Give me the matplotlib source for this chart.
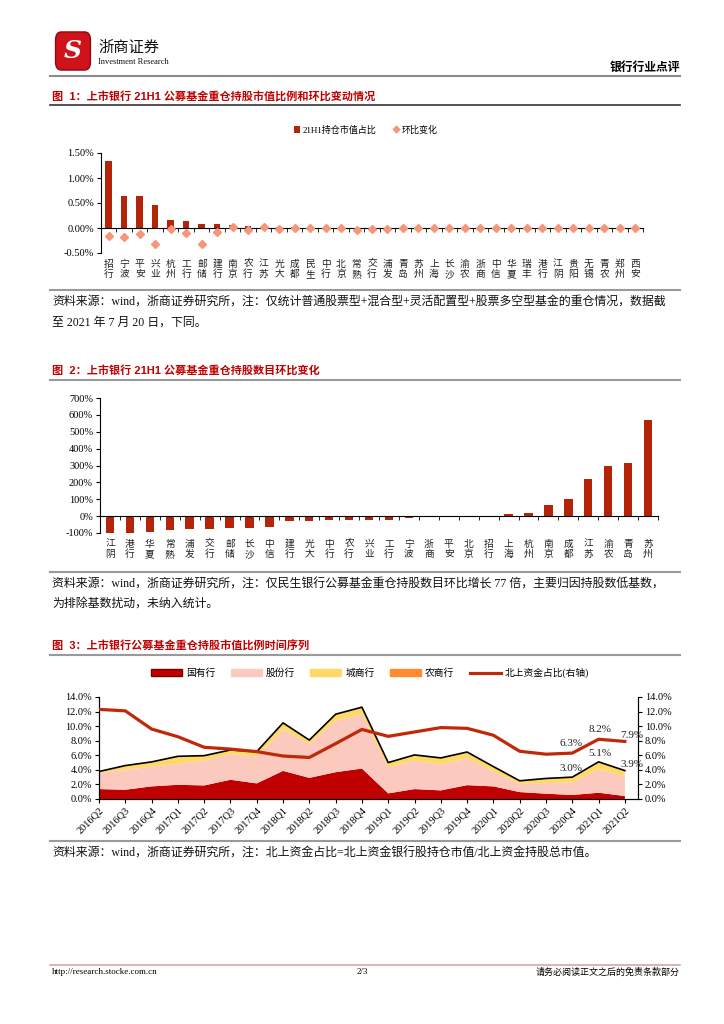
import matplotlib as mpl
mpl.use("Agg")

import matplotlib.pyplot as plt
import numpy as np
from matplotlib.lines import Line2D
from matplotlib.patches import FancyBboxPatch, Patch

W, H = 724, 1024
CJK = 'Noto Sans CJK SC'
SERIF = ['Liberation Serif', CJK]
SANS = ['Liberation Sans', CJK]

RED = '#B32408'
TITLE_RED = '#C00000'

# chart 1: share of fund holdings by bank (21H1) and q/q change, in %
banks1 = ['招行', '宁波', '平安', '兴业', '杭州', '工行', '邮储', '建行', '南京', '农行',
          '江苏', '光大', '成都', '民生', '中行', '北京', '常熟', '交行', '浦发', '青岛',
          '苏州', '上海', '长沙', '渝农', '浙商', '中信', '华夏', '瑞丰', '港行', '江阴',
          '贵阳', '无锡', '青农', '郑州', '西安']
share1 = [1.35, 0.65, 0.64, 0.46, 0.16, 0.15, 0.09, 0.08, 0.06, 0.05,
          0.03, 0.03, 0.02, 0.02, 0.01, 0.01, 0.01, 0.01, 0.01, 0.01,
          0.01, 0.005, 0.005, 0.005, 0.005, 0.004, 0.004, 0.003, 0.003, 0.003,
          0.002, 0.002, 0.002, 0.001, 0.001]
change1 = [-0.15, -0.17, -0.11, -0.31, -0.01, -0.09, -0.32, -0.07, 0.02, -0.03,
           0.02, -0.02, 0.01, 0.01, 0.0, 0.0, -0.03, -0.015, -0.015, 0.01,
           0.01, 0.0, -0.005, 0.0, 0.0, 0.0, 0.0, 0.0, 0.0, 0.0,
           0.0, 0.0, 0.0, 0.0, 0.0]

# chart 2: q/q change in number of heavy holdings, in %
banks2 = ['江阴', '港行', '华夏', '常熟', '浦发', '交行', '邮储', '长沙', '中信', '建行',
          '光大', '中行', '农行', '兴业', '工行', '宁波', '浙商', '平安', '北京', '招行',
          '上海', '杭州', '南京', '成都', '江苏', '渝农', '青岛', '苏州']
count2 = [-100, -100, -95, -85, -76, -74, -72, -70, -65, -30,
          -28, -24, -24, -24, -22, -10, -6, -5, -4, -3,
          10, 20, 64, 103, 219, 298, 312, 571]

# chart 3: time series, in %
quarters = ['2016Q2', '2016Q3', '2016Q4', '2017Q1', '2017Q2', '2017Q3', '2017Q4',
            '2018Q1', '2018Q2', '2018Q3', '2018Q4', '2019Q1', '2019Q2', '2019Q3',
            '2019Q4', '2020Q1', '2020Q2', '2020Q3', '2020Q4', '2021Q1', '2021Q2']
soe = [1.36, 1.27, 1.73, 1.95, 1.86, 2.64, 2.14, 3.86, 2.90, 3.68, 4.18,
       0.77, 1.36, 1.18, 1.90, 1.73, 0.95, 0.73, 0.55, 0.86, 0.41]
joint = [2.19, 2.73, 2.72, 2.87, 3.41, 3.54, 3.68, 5.69, 4.65, 7.05, 7.46,
         3.59, 3.91, 3.55, 3.69, 2.04, 1.10, 1.45, 1.72, 3.23, 2.68]
city = [0.18, 0.54, 0.59, 0.98, 0.62, 0.50, 0.63, 0.82, 0.48, 0.84, 0.88,
        0.59, 0.72, 0.86, 0.80, 0.63, 0.41, 0.59, 0.67, 0.95, 0.76]
rural = [0.04, 0.05, 0.05, 0.06, 0.06, 0.05, 0.05, 0.08, 0.06, 0.07, 0.08,
         0.05, 0.06, 0.05, 0.06, 0.05, 0.04, 0.05, 0.06, 0.06, 0.05]
north = [12.3, 12.1, 9.6, 8.55, 7.1, 6.85, 6.5, 5.9, 5.7, 7.6, 9.55,
         8.6, 9.2, 9.8, 9.7, 8.75, 6.55, 6.15, 6.3, 8.2, 7.9]


def rect(l, t, r, b):
    return [l / W, 1 - b / H, (r - l) / W, (b - t) / H]


def fx(x):
    return x / W


def fy(y):
    return 1 - y / H


def hline(fig, y, x0=50, x1=680, color='#9a9a9a', lw=1.5):
    fig.add_artist(Line2D([fx(x0), fx(x1)], [fy(y), fy(y)], color=color, lw=lw))


def cat_labels(ax, names, ybase, size=7):
    for i, n in enumerate(names):
        ax.annotate('\n'.join(n), xy=(i, ybase), xycoords='data',
                    xytext=(0, -4), textcoords='offset points',
                    ha='center', va='top', fontsize=size, family=CJK,
                    linespacing=1.05, color='#222222', annotation_clip=False)


fig = plt.figure(figsize=(W / 100, H / 100), dpi=100)

# ---- header ----
fig.add_artist(FancyBboxPatch((fx(57), fy(68)), fx(32), 34 / H,
                              boxstyle='round,pad=0.002,rounding_size=0.008',
                              fc='#D0121B', ec='#8a0a10', lw=1))
fig.text(fx(73), fy(51), 'S', fontsize=18, color='white', ha='center', va='center',
         family='DejaVu Serif', weight='bold', style='italic')
fig.text(fx(98), fy(47), '浙商证券', fontsize=11, family=CJK, va='center', color='#111111')
fig.text(fx(98), fy(62), 'Investment Research', fontsize=6, family='Liberation Serif',
         va='center', color='#111111', stretch='condensed')
fig.text(fx(680), fy(67), '银行行业点评', fontsize=8.5, family=CJK, weight='bold',
         ha='right', va='center')
hline(fig, 76, color='#8c8c8c', lw=1.5)

# ---- chart 1 ----
fig.text(fx(52), fy(96), '图  1：上市银行 21H1 公募基金重仓持股市值比例和环比变动情况',
         fontsize=8, family=SANS, weight='bold', color=TITLE_RED, va='center')
hline(fig, 105, color='#333333', lw=1.2)

ax1 = fig.add_axes(rect(101, 153, 643, 253))
x1 = np.arange(len(banks1))
bars1 = ax1.bar(x1, share1, width=0.42, color=RED, zorder=2, label='21H1持仓市值占比')
pts1, = ax1.plot(x1, change1, 'D', ms=4.2, color='#F7957A', zorder=3, label='环比变化')
ax1.set_xlim(-0.5, len(banks1) - 0.5)
ax1.set_ylim(-0.5, 1.5)
ax1.set_yticks([-0.5, 0, 0.5, 1.0, 1.5])
ax1.set_yticklabels(['-0.50%', '0.00%', '0.50%', '1.00%', '1.50%'],
                    family='Liberation Serif', fontsize=7.5)
for s in ['top', 'right']:
    ax1.spines[s].set_visible(False)
ax1.spines['bottom'].set_position(('data', 0))
ax1.set_xticks(x1)
ax1.set_xticklabels([])
ax1.tick_params(axis='x', which='major', length=0)
ax1.set_xticks(x1 + 0.5, minor=True)
ax1.tick_params(axis='x', which='minor', length=3, direction='out')
ax1.tick_params(axis='y', length=3, direction='out', pad=2)
cat_labels(ax1, banks1, -0.5)
fig.legend(handles=[bars1, pts1], loc='center', bbox_to_anchor=(fx(366), fy(130)),
           ncol=2, frameon=False, prop={'family': SERIF, 'size': 6.5},
           handlelength=0.7, handleheight=0.7, handletextpad=0.3,
           columnspacing=1.8, markerscale=0.8)

hline(fig, 290)
fig.text(fx(52), fy(302), '资料来源：wind，浙商证券研究所，注：仅统计普通股票型+混合型+灵活配置型+股票多空型基金的重仓情况，数据截',
         fontsize=8.6, family=SERIF, va='center', color='#111111')
fig.text(fx(52), fy(323), '至 2021 年 7 月 20 日，下同。', fontsize=8.6, family=SERIF,
         va='center', color='#111111')

# ---- chart 2 ----
fig.text(fx(52), fy(370), '图  2：上市银行 21H1 公募基金重仓持股数目环比变化',
         fontsize=8, family=SANS, weight='bold', color=TITLE_RED, va='center')
hline(fig, 380)

ax2 = fig.add_axes(rect(100, 398, 658, 533))
x2 = np.arange(len(banks2))
ax2.bar(x2, count2, width=0.42, color=RED, zorder=2)
ax2.set_xlim(-0.5, len(banks2) - 0.5)
ax2.set_ylim(-100, 700)
ax2.set_yticks(np.arange(-100, 701, 100))
ax2.set_yticklabels(['%d%%' % v for v in range(-100, 701, 100)],
                    family='Liberation Serif', fontsize=7.5)
for s in ['top', 'right']:
    ax2.spines[s].set_visible(False)
ax2.spines['bottom'].set_position(('data', 0))
ax2.set_xticks(x2)
ax2.set_xticklabels([])
ax2.tick_params(axis='x', which='major', length=0)
ax2.set_xticks(x2 + 0.5, minor=True)
ax2.tick_params(axis='x', which='minor', length=3, direction='out')
ax2.tick_params(axis='y', length=3, direction='out', pad=2)
cat_labels(ax2, banks2, -100)

hline(fig, 572)
fig.text(fx(52), fy(585), '资料来源：wind，浙商证券研究所，注：仅民生银行公募基金重仓持股数目环比增长 77 倍，主要归因持股数低基数，',
         fontsize=8.6, family=SERIF, va='center', color='#111111')
fig.text(fx(52), fy(604), '为排除基数扰动，未纳入统计。', fontsize=8.6, family=SERIF,
         va='center', color='#111111')

# ---- chart 3 ----
fig.text(fx(52), fy(645), '图  3：上市银行公募基金重仓持股市值比例时间序列',
         fontsize=8, family=SANS, weight='bold', color=TITLE_RED, va='center')
hline(fig, 655)

ax3 = fig.add_axes(rect(99, 697, 638, 799))
x3 = np.arange(len(quarters))
total = np.array(soe) + np.array(joint) + np.array(city) + np.array(rural)
ax3.stackplot(x3, soe, joint, city, rural,
              colors=['#C00000', '#FBC9BD', '#FFD966', '#FF8B2E'], zorder=1)
ax3.plot(x3, total, color='black', lw=1.2, zorder=2)
ax3.set_xlim(0, 20.5)
ax3.set_ylim(0, 14)
ax3.set_yticks(np.arange(0, 15, 2))
ax3.set_yticklabels(['%.1f%%' % v for v in range(0, 15, 2)],
                    family='Liberation Serif', fontsize=7.5)
ax3.spines['top'].set_visible(False)
ax3.set_xticks(x3)
ax3.set_xticklabels(quarters, rotation=45, ha='right', va='top', rotation_mode='anchor',
                    family='Liberation Serif', fontsize=7.5)
ax3.tick_params(axis='x', length=3, direction='out', pad=2)
ax3.tick_params(axis='y', length=3, direction='out', pad=2)

ax3r = ax3.twinx()
ax3r.plot(x3, north, color='#C0280A', lw=2.3, zorder=3)
ax3r.set_ylim(0, 14)
ax3r.set_yticks(np.arange(0, 15, 2))
ax3r.set_yticklabels(['%.1f%%' % v for v in range(0, 15, 2)],
                     family='Liberation Serif', fontsize=7.5)
ax3r.spines['top'].set_visible(False)
ax3r.tick_params(axis='y', length=3, direction='out', pad=2)

# value labels on the last quarters: (index, dx, dy for north, dy for total)
for i, dx, dyn, dyt in [(18, -1, 4, 3), (19, 1, 4, 3), (20, 5, 1, 1)]:
    ax3r.annotate('%.1f%%' % north[i], xy=(x3[i], north[i]), xytext=(dx, dyn),
                  textcoords='offset points', ha='center', va='bottom',
                  family='Liberation Serif', fontsize=8, color='#222222')
    ax3.annotate('%.1f%%' % total[i], xy=(x3[i], total[i]), xytext=(dx, dyt),
                 textcoords='offset points', ha='center', va='bottom',
                 family='Liberation Serif', fontsize=8, color='#222222')

handles = [Patch(fc='#C00000', ec='#7a0000', label='国有行'),
           Patch(fc='#FBC9BD', ec='#FBC9BD', label='股份行'),
           Patch(fc='#FFD966', ec='#FFD966', label='城商行'),
           Patch(fc='#FF8B2E', ec='#FF8B2E', label='农商行'),
           Line2D([], [], color='#C0280A', lw=2.3, label='北上资金占比(右轴)')]
fig.legend(handles=handles, loc='center', bbox_to_anchor=(fx(370), fy(673)), ncol=5,
           frameon=False, prop={'family': SERIF, 'size': 7}, handlelength=3.2,
           handleheight=0.6, handletextpad=0.4, columnspacing=1.6)

hline(fig, 841)
fig.text(fx(52), fy(854), '资料来源：wind，浙商证券研究所，注：北上资金占比=北上资金银行股持仓市值/北上资金持股总市值。',
         fontsize=8.6, family=SERIF, va='center', color='#111111')

# ---- footer ----
hline(fig, 965, color='#D8A7A7', lw=1.2)
fig.text(fx(52), fy(972), 'http://research.stocke.com.cn', fontsize=6.5,
         family='Liberation Serif', va='center')
fig.text(fx(362), fy(972), '2/3', fontsize=6.5, family='Liberation Serif',
         va='center', ha='center')
fig.text(fx(680), fy(972), '请务必阅读正文之后的免责条款部分', fontsize=6.5,
         family=CJK, va='center', ha='right')

fig.savefig('out.png', dpi=100)
